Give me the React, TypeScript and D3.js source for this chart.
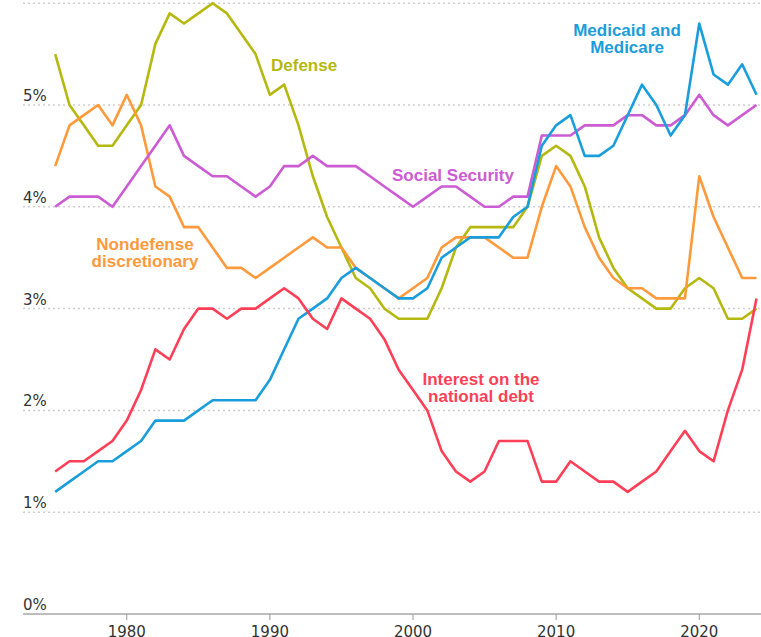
import React from 'react';
import * as d3 from 'd3';

const W = 761, H = 637;

// fiscal years shown on the chart
const years = d3.range(1975, 2025);

// spending as % of GDP
const defense = [
  5.5, 5.0, 4.8, 4.6, 4.6, 4.8, 5.0, 5.6, 5.9, 5.8,
  5.9, 6.0, 5.9, 5.7, 5.5, 5.1, 5.2, 4.8, 4.3, 3.9,
  3.6, 3.3, 3.2, 3.0, 2.9, 2.9, 2.9, 3.2, 3.6, 3.8,
  3.8, 3.8, 3.8, 4.0, 4.5, 4.6, 4.5, 4.2, 3.7, 3.4,
  3.2, 3.1, 3.0, 3.0, 3.2, 3.3, 3.2, 2.9, 2.9, 3.0,
];
const nondefense = [
  4.4, 4.8, 4.9, 5.0, 4.8, 5.1, 4.8, 4.2, 4.1, 3.8,
  3.8, 3.6, 3.4, 3.4, 3.3, 3.4, 3.5, 3.6, 3.7, 3.6,
  3.6, 3.4, 3.3, 3.2, 3.1, 3.2, 3.3, 3.6, 3.7, 3.7,
  3.7, 3.6, 3.5, 3.5, 4.0, 4.4, 4.2, 3.8, 3.5, 3.3,
  3.2, 3.2, 3.1, 3.1, 3.1, 4.3, 3.9, 3.6, 3.3, 3.3,
];
const socialSecurity = [
  4.0, 4.1, 4.1, 4.1, 4.0, 4.2, 4.4, 4.6, 4.8, 4.5,
  4.4, 4.3, 4.3, 4.2, 4.1, 4.2, 4.4, 4.4, 4.5, 4.4,
  4.4, 4.4, 4.3, 4.2, 4.1, 4.0, 4.1, 4.2, 4.2, 4.1,
  4.0, 4.0, 4.1, 4.1, 4.7, 4.7, 4.7, 4.8, 4.8, 4.8,
  4.9, 4.9, 4.8, 4.8, 4.9, 5.1, 4.9, 4.8, 4.9, 5.0,
];
const medicare = [
  1.2, 1.3, 1.4, 1.5, 1.5, 1.6, 1.7, 1.9, 1.9, 1.9,
  2.0, 2.1, 2.1, 2.1, 2.1, 2.3, 2.6, 2.9, 3.0, 3.1,
  3.3, 3.4, 3.3, 3.2, 3.1, 3.1, 3.2, 3.5, 3.6, 3.7,
  3.7, 3.7, 3.9, 4.0, 4.6, 4.8, 4.9, 4.5, 4.5, 4.6,
  4.9, 5.2, 5.0, 4.7, 4.9, 5.8, 5.3, 5.2, 5.4, 5.1,
];
const interest = [
  1.4, 1.5, 1.5, 1.6, 1.7, 1.9, 2.2, 2.6, 2.5, 2.8,
  3.0, 3.0, 2.9, 3.0, 3.0, 3.1, 3.2, 3.1, 2.9, 2.8,
  3.1, 3.0, 2.9, 2.7, 2.4, 2.2, 2.0, 1.6, 1.4, 1.3,
  1.4, 1.7, 1.7, 1.7, 1.3, 1.3, 1.5, 1.4, 1.3, 1.3,
  1.2, 1.3, 1.4, 1.6, 1.8, 1.6, 1.5, 2.0, 2.4, 3.1,
];

const yTicks = [0, 1, 2, 3, 4, 5, 6];
const xTicks = [1980, 1990, 2000, 2010, 2020];

const series = [
  { name: 'defense', values: defense, color: '#b5b80f' },
  { name: 'nondefense', values: nondefense, color: '#ff9a3c' },
  { name: 'social', values: socialSecurity, color: '#cc5cd4' },
  { name: 'medicare', values: medicare, color: '#1a9edb' },
  { name: 'interest', values: interest, color: '#ff3f58' },
];

// label text, line by line
const labels = [
  { lines: ['Defense'], color: '#b5b80f', x: 271, y: 71, anchor: 'start' },
  { lines: ['Social Security'], color: '#cc5cd4', x: 392, y: 181, anchor: 'start' },
  { lines: ['Medicaid and', 'Medicare'], color: '#1a9edb', x: 627, y: 36, anchor: 'middle' },
  { lines: ['Nondefense', 'discretionary'], color: '#ff9a3c', x: 145, y: 250, anchor: 'middle' },
  { lines: ['Interest on the', 'national debt'], color: '#ff3f58', x: 481, y: 385, anchor: 'middle' },
];

export default function App() {
  const x = d3.scaleLinear().domain([1975, 2024]).range([55.2, 756.5]);
  const y = d3.scaleLinear().domain([0, 6]).range([614, 3.2]);

  const line = d3
    .line<number>()
    .x((_, i) => x(years[i]))
    .y((d) => y(d));

  return (
    <svg
      width={W}
      height={H}
      style={{ position: 'absolute', left: 0, top: 0, display: 'block', background: '#fff' }}
    >
      {/* dotted gridlines */}
      {yTicks.filter((t) => t > 0).map((t) => (
        <line
          key={t}
          x1={23}
          x2={W}
          y1={y(t)}
          y2={y(t)}
          stroke="#cfcfcf"
          strokeWidth={1.5}
          strokeDasharray="2 3"
        />
      ))}
      {/* y labels */}
      {yTicks.filter((t) => t < 6).map((t) => (
        <text
          key={t}
          x={23}
          y={y(t) - 4}
          fontFamily="DejaVu Sans, sans-serif"
          fontSize={15}
          fill="#333"
        >
          {t + '%'}
        </text>
      ))}
      {/* x axis */}
      <line x1={23} x2={W} y1={y(0)} y2={y(0)} stroke="#bdbdbd" strokeWidth={2} />
      {xTicks.map((t) => (
        <g key={t} transform={`translate(${x(t)},0)`}>
          <line y1={y(0)} y2={y(0) + 6} stroke="#999" strokeWidth={1} />
          <text
            y={637}
            textAnchor="middle"
            fontFamily="DejaVu Sans, sans-serif"
            fontSize={15}
            fill="#333"
          >
            {t}
          </text>
        </g>
      ))}
      {/* lines */}
      {series.map((s) => (
        <path
          key={s.name}
          d={line(s.values) || ''}
          fill="none"
          stroke={s.color}
          strokeWidth={2.6}
          strokeLinejoin="round"
        />
      ))}
      {/* direct labels */}
      {labels.map((l, i) => (
        <text
          key={i}
          textAnchor={l.anchor}
          fontFamily="Liberation Sans, Arial, sans-serif"
          fontWeight="bold"
          fontSize={17}
          fill={l.color}
        >
          {l.lines.map((t, j) => (
            <tspan key={j} x={l.x} y={l.y + j * 17}>
              {t}
            </tspan>
          ))}
        </text>
      ))}
    </svg>
  );
}
